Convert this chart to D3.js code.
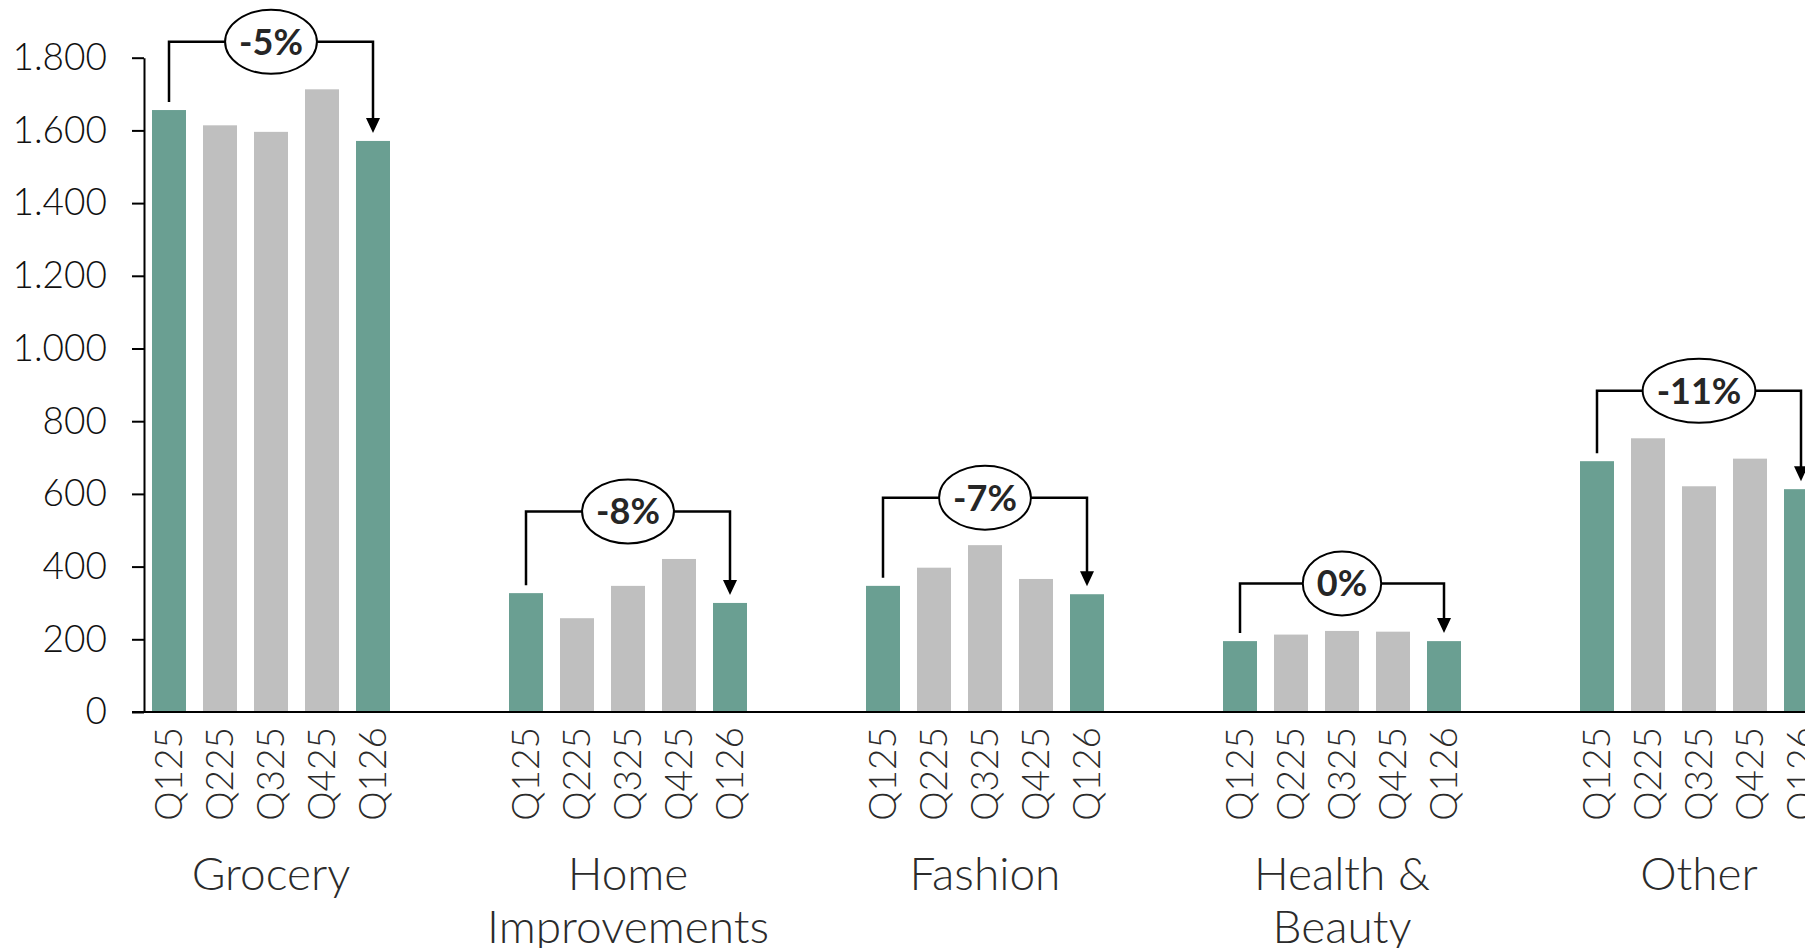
<!DOCTYPE html>
<html>
<head>
<meta charset="utf-8">
<script src="https://cdn.jsdelivr.net/npm/d3@7"></script>
<style>
  html, body { margin: 0; padding: 0; background: #fff; }
  svg { display: block; font-family: Lato, "Open Sans", sans-serif; }
</style>
</head>
<body>
<svg id="chart" width="1805" height="948"></svg>
<script>
// ---- data ----
const categories = ["Grocery", "Home Improvements", "Fashion", "Health & Beauty", "Other"];
const categoryLines = [["Grocery"], ["Home", "Improvements"], ["Fashion"], ["Health &", "Beauty"], ["Other"]];
const quarters = ["Q125", "Q225", "Q325", "Q425", "Q126"];
const grocery = [1656, 1614, 1596, 1713, 1571];
const homeImprovements = [327, 258, 347, 421, 300];
const fashion = [347, 397, 459, 366, 324];
const healthBeauty = [195, 213, 223, 221, 195];
const other = [690, 753, 621, 697, 613];
const changeLabels = ["-5%", "-8%", "-7%", "0%", "-11%"];
const yTicks = [0, 200, 400, 600, 800, 1000, 1200, 1400, 1600, 1800];

const seriesByCategory = [grocery, homeImprovements, fashion, healthBeauty, other];
const highlight = ["Q125", "Q126"];

const GREEN = "#6a9f92";
const GREY = "#bfbfbf";
const TEXT = "#2b2b2b";

const svg = d3.select("#chart");

const y = d3.scaleLinear().domain([0, 1800]).range([712, 57.7]);
const x0 = d3.scaleBand().domain(categories).range([92.5, 92.5 + 357 * categories.length]).padding(0);
const x1 = d3.scaleBand().domain(quarters).range([59.5, 297.5]).paddingInner(1 / 3).paddingOuter(0);

const locale = d3.formatLocale({ decimal: ",", thousands: ".", grouping: [3], currency: ["", ""] });
const fmt = locale.format(",");

// y axis
const yAxis = svg.append("g")
  .attr("transform", "translate(144,0)")
  .call(d3.axisLeft(y).tickValues(yTicks).tickSize(12).tickSizeOuter(0).tickPadding(25).tickFormat(fmt));
yAxis.select(".domain").attr("stroke", "#000").attr("stroke-width", 2);
yAxis.selectAll(".tick line").attr("stroke", "#000").attr("stroke-width", 2);
yAxis.selectAll(".tick text")
  .attr("fill", "#111")
  .style("font-size", "37px")
  .style("font-weight", "300")
  .style("font-family", "Lato, sans-serif");

// bars
const groups = svg.append("g").selectAll("g.cat")
  .data(categories.map((c, i) => ({ cat: c, values: seriesByCategory[i], label: changeLabels[i], lines: categoryLines[i] })))
  .join("g")
  .attr("class", "cat")
  .attr("transform", d => `translate(${x0(d.cat)},0)`);

groups.selectAll("rect")
  .data(d => d.values.map((v, j) => ({ q: quarters[j], v })))
  .join("rect")
  .attr("x", d => x1(d.q))
  .attr("width", x1.bandwidth())
  .attr("y", d => y(d.v))
  .attr("height", d => y(0) - y(d.v))
  .attr("fill", d => highlight.includes(d.q) ? GREEN : GREY);

// x axis baseline
svg.append("line")
  .attr("x1", 132).attr("x2", 1805)
  .attr("y1", y(0)).attr("y2", y(0))
  .attr("stroke", "#000").attr("stroke-width", 2);

// quarter labels
groups.selectAll("text.q")
  .data(quarters)
  .join("text")
  .attr("class", "q")
  .attr("transform", q => `translate(${x1(q) + x1.bandwidth() / 2},${y(0) + 15}) rotate(-90)`)
  .attr("text-anchor", "end")
  .attr("dy", "0.36em")
  .attr("fill", TEXT)
  .style("font-size", "37px")
  .style("font-weight", "300")
  .text(q => q);

// category labels
groups.each(function (d) {
  const g = d3.select(this);
  const cx = x0.bandwidth() / 2;
  const t = g.append("text")
    .attr("text-anchor", "middle")
    .attr("fill", TEXT)
    .style("font-size", "46px")
    .style("font-weight", "300");
  d.lines.forEach((ln, k) => {
    t.append("tspan").attr("x", cx).attr("y", 890 + k * 53).text(ln);
  });
});

// change annotations
groups.each(function (d) {
  const g = d3.select(this);
  const bw = x1.bandwidth();
  const xa = x1("Q125") + bw / 2;
  const xb = x1("Q126") + bw / 2;
  const vA = d.values[0], vB = d.values[d.values.length - 1];
  const yTop = y(d3.max(d.values)) - 47.5;
  const yA = y(vA) - 8;
  const yB = y(vB) - 8;
  const arrowH = 15, arrowW = 14;

  g.append("path")
    .attr("d", `M${xa},${yA} V${yTop} H${xb} V${yB - arrowH + 1}`)
    .attr("fill", "none")
    .attr("stroke", "#000")
    .attr("stroke-width", 2.5);
  g.append("path")
    .attr("d", `M${xb - arrowW / 2},${yB - arrowH} L${xb + arrowW / 2},${yB - arrowH} L${xb},${yB} Z`)
    .attr("fill", "#000");

  const cx = (xa + xb) / 2;
  const ell = g.append("ellipse")
    .attr("cx", cx).attr("cy", yTop)
    .attr("ry", 32)
    .attr("fill", "#fff")
    .attr("stroke", "#000")
    .attr("stroke-width", 2);
  const txt = g.append("text")
    .attr("x", cx).attr("y", yTop)
    .attr("text-anchor", "middle")
    .attr("dy", "0.36em")
    .attr("fill", "#262626")
    .style("font-size", "36px")
    .style("font-weight", "bold")
    .text(d.label);
  const w = txt.node().getBBox().width;
  ell.attr("rx", w / 2 + 14);
});
</script>
</body>
</html>
